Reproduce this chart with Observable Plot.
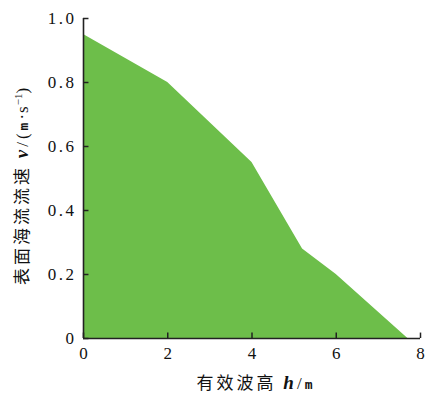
<!DOCTYPE html>
<html><head><meta charset="utf-8">
<script src="https://cdn.jsdelivr.net/npm/d3@7"></script>
<script src="https://cdn.jsdelivr.net/npm/@observablehq/plot@0.6"></script>
<style>body{margin:0;background:#fff}</style>
</head><body><div id="chart"></div>
<script>
const waveHeight = [0, 2, 4, 5.2, 6, 7.7];
const velocity = [0.95, 0.80, 0.55, 0.28, 0.20, 0];
const xTicks = [0, 2, 4, 6, 8];
const yTicks = [0, 0.2, 0.4, 0.6, 0.8, 1.0];
const xLabelText = "有效波高";
const yLabelText = "表面海流流速";

const serif = "'Liberation Serif', 'DejaVu Serif', serif";
const data = waveHeight.map((h, i) => ({h, v: velocity[i]}));
const chart = Plot.plot({
  width: 425, height: 395,
  marginLeft: 83, marginRight: 5, marginTop: 18, marginBottom: 57,
  x: {domain: [0, 8]}, y: {domain: [0, 1]},
  style: {fontFamily: serif, fontSize: "17px", color: "#111", background: "#fff"},
  marks: [
    Plot.areaY(data, {x: "h", y: "v", fill: "#6dbe4a"}),
    Plot.axisX({ticks: xTicks, tickSize: 0, tickPadding: 8, label: null, tickFormat: d => String(d), fontFamily: serif, fontSize: 17}),
    Plot.axisY({ticks: yTicks, tickSize: 0, tickPadding: 7, label: null, tickFormat: d => d === 0 ? "0" : d.toFixed(1), fontFamily: serif, fontSize: 17}),
    Plot.ruleX(xTicks, {y1: 0, y2: 0.017, stroke: "#222", strokeWidth: 1.5}),
    Plot.ruleY(yTicks, {x1: 0, x2: 0.13, stroke: "#222", strokeWidth: 1.5}),
    Plot.ruleY([0], {stroke: "#222", strokeWidth: 1.6}),
    Plot.ruleX([0], {stroke: "#222", strokeWidth: 1.6})
  ]
});
document.getElementById("chart").appendChild(chart);
const svg = d3.select(chart);
svg.selectAll('g[aria-label$="tick label"] text')
  .style("font-family", serif).style("font-size", "17px").attr("fill", "#111");
svg.selectAll('g[aria-label="y-axis tick label"] text').style("letter-spacing", "2.5px");
const cjk = "'Noto Sans CJK SC', sans-serif";
const xl = svg.append("text").attr("x", 256).attr("y", 389).attr("text-anchor", "middle")
  .style("font-family", cjk).style("font-size", "17px").style("letter-spacing", "3px").attr("fill", "#111");
xl.append("tspan").text(xLabelText + " ");
xl.append("tspan").text("h").style("font-family", serif).style("font-weight", "bold").style("font-style", "italic").style("font-size", "19px");
xl.append("tspan").text("/").style("font-family", serif);
xl.append("tspan").text("m").style("font-family", "'DejaVu Sans Mono', monospace").style("font-size", "13px").style("font-weight", "bold");

const yl = svg.append("text").attr("transform", "translate(28,185) rotate(-90)").attr("text-anchor", "middle")
  .style("font-family", cjk).style("font-size", "17px").style("letter-spacing", "3px").attr("fill", "#111");
yl.append("tspan").text(yLabelText + " ");
yl.append("tspan").text("v").style("font-family", serif).style("font-weight", "bold").style("font-style", "italic").style("font-size", "19px");
yl.append("tspan").text("/(").style("font-family", serif);
yl.append("tspan").text("m").style("font-family", "'DejaVu Sans Mono', monospace").style("font-size", "13px").style("font-weight", "bold");
yl.append("tspan").text("·s").style("font-family", serif).style("letter-spacing", "1px");
yl.append("tspan").text("−1").attr("dy", -6).style("font-family", serif).style("font-size", "11px").style("letter-spacing", "0px");
yl.append("tspan").text(")").attr("dy", 6).style("font-family", serif);
</script>
</body></html>
